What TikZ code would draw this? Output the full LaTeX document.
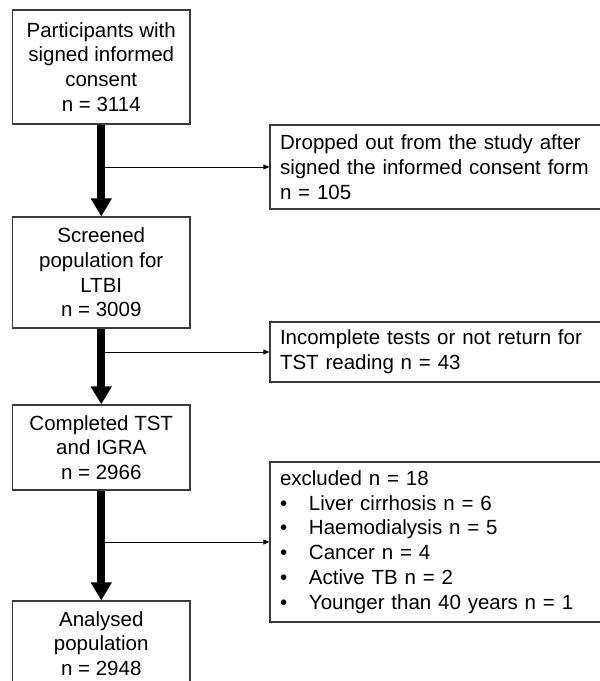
\documentclass[tikz,border=0pt]{standalone}
\usepackage{fontspec}
\setmainfont{Liberation Sans}
\usetikzlibrary{arrows.meta}
\definecolor{boxgray}{HTML}{3A3A3A}
\begin{document}
\begin{tikzpicture}[x=1pt,y=-1pt,
  box/.style={draw=boxgray, line width=1.2pt, inner sep=0pt, font=\fontsize{20.5pt}{24.7pt}\selectfont, text=black},
  mainbox/.style={box, minimum width=177.5pt, align=center},
  sidebox/.style={box, minimum width=340pt, text width=320pt, align=left},
  bigarrow/.style={line width=8pt, -{Triangle[width=20pt,length=18pt]}},
  smallarrow/.style={line width=1pt, -{Triangle[width=5pt,length=6pt]}}]
\path[use as bounding box] (0,0) rectangle (600,681);
\clip (0,0) rectangle (600,681);
\fill[white] (0,0) rectangle (600,681);

\node[mainbox, minimum height=114pt] (box1) at (101.25,67) {Participants with\\signed informed\\consent\\n = 3114};
\node[mainbox, minimum height=111pt] (box2) at (101.25,272.5) {Screened\\population for\\LTBI\\n = 3009};
\node[mainbox, minimum height=85pt] (box3) at (101.25,447.5) {Completed TST\\and IGRA\\n = 2966};
\node[mainbox, minimum height=85pt] (box4) at (101.25,643.5) {Analysed\\population\\n = 2948};

\node[sidebox, minimum height=84pt] (rA) at (440,167) {Dropped out from the study after\\signed the informed consent form\\n = 105};
\node[sidebox, minimum height=60pt] (rB) at (440,352) {Incomplete tests or not return for\\TST reading n = 43};
\node[sidebox, minimum height=160pt] (rC) at (440,542) {excluded n = 18\\
\makebox[29pt][l]{\textbullet}Liver cirrhosis n = 6\\
\makebox[29pt][l]{\textbullet}Haemodialysis n = 5\\
\makebox[29pt][l]{\textbullet}Cancer n = 4\\
\makebox[29pt][l]{\textbullet}Active TB n = 2\\
\makebox[29pt][l]{\textbullet}Younger than 40 years n = 1};

\draw[bigarrow] (box1.south) -- (box2.north);
\draw[bigarrow] (box2.south) -- (box3.north);
\draw[bigarrow] (box3.south) -- (box4.north);

\coordinate (b1) at (101.25,167);
\coordinate (b2) at (101.25,352);
\coordinate (b3) at (101.25,542);
\draw[smallarrow] (b1) -- (rA.west);
\draw[smallarrow] (b2) -- (rB.west);
\draw[smallarrow] (b3) -- (rC.west);
\end{tikzpicture}
\end{document}
